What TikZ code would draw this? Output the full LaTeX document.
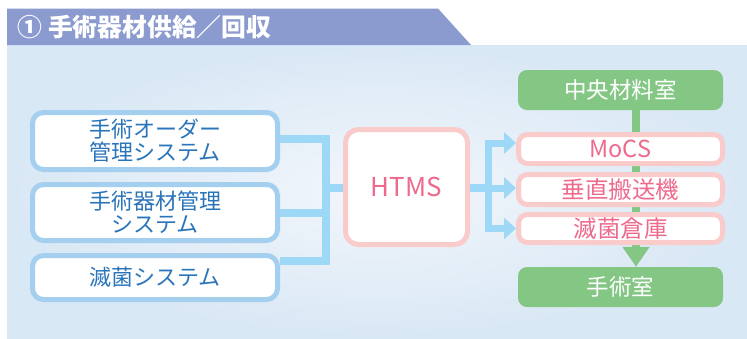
\documentclass[tikz,border=0pt]{standalone}
\usepackage{fontspec}
\setmainfont{Noto Sans CJK JP}
\usetikzlibrary{arrows.meta,calc}
\definecolor{bannerc}{HTML}{8C9BCF}
\definecolor{bgdark}{HTML}{D9E8F5}
\definecolor{bglight}{HTML}{F2F6FB}
\definecolor{lborder}{HTML}{A4CFEE}
\definecolor{lconn}{HTML}{9DD9F6}
\definecolor{ltext}{HTML}{2A75BA}
\definecolor{pborder}{HTML}{F9CBCB}
\definecolor{ptext}{HTML}{EE6A8C}
\definecolor{greenc}{HTML}{84C785}
\tikzset{
  lbox/.style={draw=lborder, line width=5pt, fill=white, rounded corners=11pt,
    minimum width=245pt, align=center, text=ltext, inner sep=0pt,
    font=\fontsize{22pt}{23pt}\selectfont},
  pbox/.style={draw=pborder, line width=5pt, fill=white, rounded corners=9pt,
    minimum width=204pt, text=ptext, inner sep=0pt,
    font=\fontsize{23.5pt}{24pt}\selectfont},
  gbox/.style={fill=greenc, rounded corners=9pt, minimum width=205pt,
    minimum height=40pt, text=white, inner sep=0pt,
    font=\fontsize{22.5pt}{24pt}\selectfont},
  bline/.style={draw=lconn, line width=8pt},
  barrow/.style={draw=lconn, line width=7pt, -{Triangle[length=12pt,width=21pt]}},
  garrow/.style={draw=greenc, line width=8pt, -{Triangle[length=20pt,width=26pt]}}
}
\begin{document}
\begin{tikzpicture}[x=1pt,y=-1pt]
\useasboundingbox (0,0) rectangle (747,338);
% background
\shade[inner color=bglight, outer color=bgdark] (7,45) rectangle (747,338);
% banner
\fill[bannerc] (7,8.5) -- (438,8.5) -- (471,45) -- (7,45) -- cycle;
\node[anchor=west, text=white, inner sep=0pt, font=\fontsize{24.8pt}{26pt}\selectfont\bfseries]
  (title) at (17.5,27) {① 手術器材供給／回収};
% left boxes
\node[lbox, minimum height=57pt] (b1) at (155,141) {手術オーダー\\管理システム};
\node[lbox, minimum height=56pt] (b2) at (155,212.5) {手術器材管理\\システム};
\node[lbox, minimum height=44pt] (b3) at (155,277.5) {滅菌システム};
% HTMS
\node[draw=pborder, line width=5pt, fill=white, rounded corners=13pt,
  minimum width=122pt, minimum height=115pt, text=ptext,
  font=\fontsize{26pt}{27pt}\selectfont] (htms) at (406.5,187) {HTMS};
% left connectors
\coordinate (jL) at (326,187.5);
\draw[bline] ([yshift=2pt]b1.east) -| (jL);
\draw[bline] ([yshift=16.5pt]b3.east) -| (jL);
\draw[bline] (b2.east) -- (b2.east -| jL);
\draw[bline] (jL) -- (jL -| htms.west);
% green boxes and line
\node[gbox] (cms) at (620.5,90) {中央材料室};
\node[gbox] (or) at (620.5,287) {手術室};
\draw[garrow] (cms.south -| 636,0) -- (or.north -| 636,0);
% pink boxes
\node[pbox, minimum height=29pt] (mocs) at (620.5,149) {MoCS};
\node[pbox, minimum height=30pt] (vert) at (620.5,189.5) {垂直搬送機};
\node[pbox, minimum height=28pt] (ster) at (620.5,228.5) {滅菌倉庫};
% right connectors
\coordinate (jR) at (488,188);
\draw[draw=lconn, line width=8pt] (htms.east |- jR) -- (jR);
\draw[barrow] (jR) |- ([yshift=6pt]mocs.west);
\draw[barrow] (jR) -- (jR -| vert.west);
\draw[barrow] (jR) |- (ster.west);
\end{tikzpicture}
\end{document}
